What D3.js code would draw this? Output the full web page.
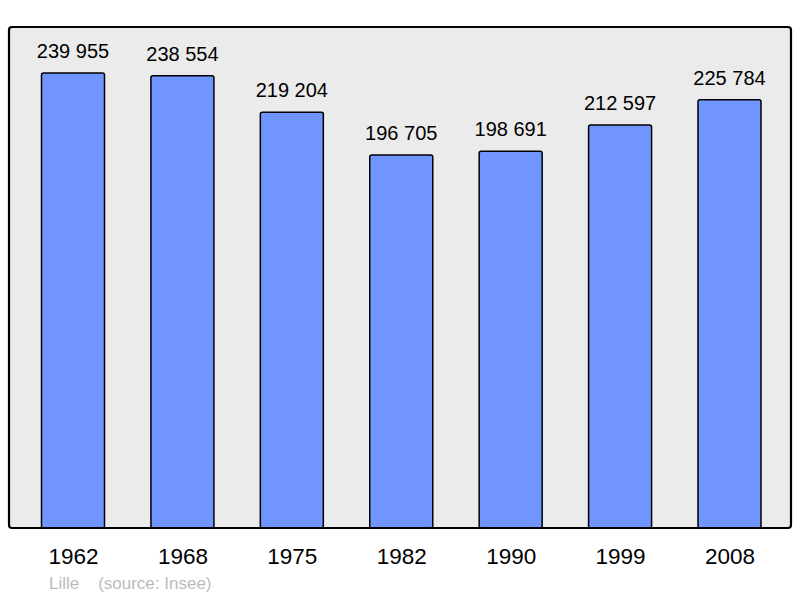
<!DOCTYPE html>
<html>
<head>
<meta charset="utf-8">
<script src="https://cdn.jsdelivr.net/npm/d3@7"></script>
<style>
  body { margin: 0; background: #fff; }
  text { font-family: "Liberation Sans", Arial, sans-serif; }
</style>
</head>
<body>
<svg id="chart" width="800" height="598"></svg>
<script>
var years = ["1962", "1968", "1975", "1982", "1990", "1999", "2008"];
var population = [239955, 238554, 219204, 196705, 198691, 212597, 225784];
var valueLabels = ["239 955", "238 554", "219 204", "196 705", "198 691", "212 597", "225 784"];

var svg = d3.select("#chart"),
    frame = {left: 9, top: 27, right: 791, bottom: 528},
    barWidth = 63;

var x = d3.scalePoint()
  .domain(years)
  .range([73, 729.5]);

var y = d3.scaleLinear()
  .domain([0, 239955])
  .range([frame.bottom, 73]);

svg.append("rect")
  .attr("x", frame.left)
  .attr("y", frame.top)
  .attr("width", frame.right - frame.left)
  .attr("height", frame.bottom - frame.top)
  .attr("rx", 3)
  .attr("fill", "#ebebeb")
  .attr("stroke", "none");

svg.selectAll("rect.bar")
  .data(population)
  .enter().append("rect")
  .attr("class", "bar")
  .attr("x", function(d, i) { return x(years[i]) - barWidth / 2; })
  .attr("y", function(d) { return y(d); })
  .attr("width", barWidth)
  .attr("height", function(d) { return frame.bottom - y(d); })
  .attr("rx", 2)
  .attr("fill", "#7095ff")
  .attr("stroke", "#000")
  .attr("stroke-width", 1.5);

// frame border drawn on top
svg.append("rect")
  .attr("x", frame.left)
  .attr("y", frame.top)
  .attr("width", frame.right - frame.left)
  .attr("height", frame.bottom - frame.top)
  .attr("rx", 3)
  .attr("fill", "none")
  .attr("stroke", "#000")
  .attr("stroke-width", 2.2);

svg.selectAll("text.value")
  .data(population)
  .enter().append("text")
  .attr("class", "value")
  .attr("x", function(d, i) { return x(years[i]); })
  .attr("y", function(d) { return y(d) - 15; })
  .attr("text-anchor", "middle")
  .attr("font-size", 20)
  .attr("fill", "#000")
  .text(function(d, i) { return valueLabels[i]; });

var xAxis = svg.append("g")
  .attr("transform", "translate(0," + frame.bottom + ")")
  .call(d3.axisBottom(x).tickSize(0).tickPadding(20));
xAxis.select(".domain").remove();
xAxis.attr("font-size", null).attr("font-family", null);
xAxis.selectAll("text")
  .attr("font-size", 22.5)
  .attr("fill", "#000");

svg.append("text")
  .attr("x", 49)
  .attr("y", 589)
  .attr("font-size", 17)
  .attr("fill", "#bbbbbb")
  .style("white-space", "pre")
  .text("Lille    (source: Insee)");
</script>
</body>
</html>
